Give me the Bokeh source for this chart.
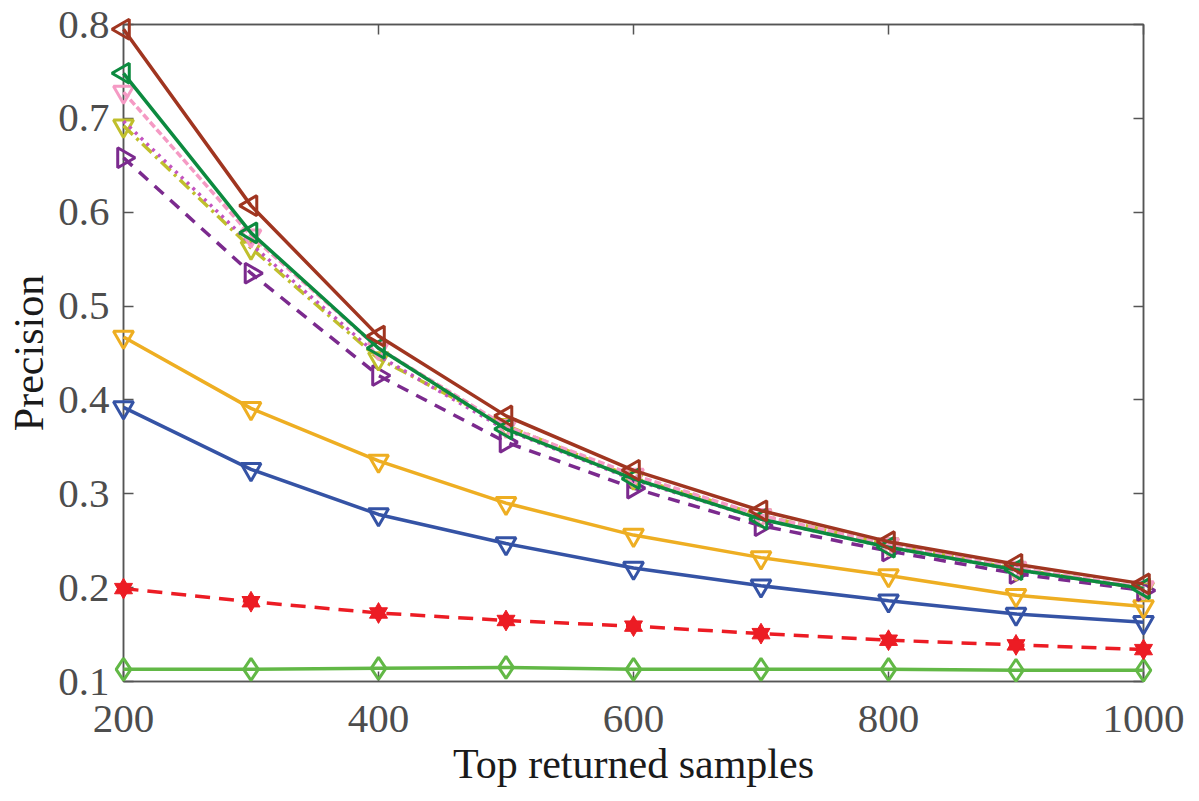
from bokeh.plotting import figure
from bokeh.models import LinearAxis, FixedTicker, Range1d, CustomJSTickFormatter
from bokeh.embed import file_html
from bokeh.resources import INLINE
import math

samples = [200, 300, 400, 500, 600, 700, 800, 900, 1000]
brown = [0.795, 0.607, 0.468, 0.383, 0.325, 0.282, 0.249, 0.225, 0.204]
green = [0.748, 0.578, 0.455, 0.369, 0.316, 0.273, 0.243, 0.219, 0.199]
pink = [0.728, 0.575, 0.455, 0.372, 0.320, 0.277, 0.246, 0.221, 0.200]
olive = [0.692, 0.562, 0.444, 0.373, 0.317, 0.277, 0.246, 0.220, 0.199]
magenta = [0.697, 0.566, 0.447, 0.368, 0.315, 0.273, 0.243, 0.219, 0.199]
purple = [0.658, 0.535, 0.426, 0.355, 0.306, 0.266, 0.239, 0.215, 0.197]
orange = [0.467, 0.391, 0.335, 0.290, 0.256, 0.232, 0.213, 0.192, 0.180]
blue = [0.392, 0.326, 0.278, 0.247, 0.221, 0.202, 0.186, 0.172, 0.163]
red = [0.199, 0.185, 0.173, 0.165, 0.159, 0.151, 0.144, 0.139, 0.134]
lime = [0.113, 0.113, 0.114, 0.115, 0.113, 0.113, 0.113, 0.112, 0.112]

x_ticks = [200, 400, 600, 800, 1000]
y_ticks = [0.1, 0.2, 0.3, 0.4, 0.5, 0.6, 0.7, 0.8]

FONT = "Liberation Serif"
AX = "#555555"

p = figure(width=1199, height=801, output_backend="svg", toolbar_location=None,
           x_range=Range1d(200, 1000), y_range=Range1d(0.1, 0.8),
           min_border_left=123, min_border_right=56, min_border_top=24, min_border_bottom=120)
p.background_fill_color = "white"
p.border_fill_color = "white"
p.outline_line_color = AX
p.outline_line_width = 1.5
p.xgrid.visible = False
p.ygrid.visible = False

def style_axis(ax):
    ax.major_tick_in = 10
    ax.major_tick_out = 0
    ax.minor_tick_line_color = None
    ax.axis_line_color = AX
    ax.axis_line_width = 1.5
    ax.major_tick_line_color = AX
    ax.major_tick_line_width = 1.5
    ax.major_label_text_font = FONT
    ax.major_label_text_font_size = "41px"
    ax.major_label_text_color = "#4d4d4d"
    ax.axis_label_text_font = FONT
    ax.axis_label_text_font_style = "normal"
    ax.axis_label_text_font_size = "42px"
    ax.axis_label_text_color = "#1a1a1a"

p.xaxis.ticker = FixedTicker(ticks=x_ticks)
p.yaxis.ticker = FixedTicker(ticks=y_ticks)
p.yaxis.formatter.use_scientific = False
for ax in list(p.xaxis) + list(p.yaxis):
    style_axis(ax)
p.xaxis.axis_label = "Top returned samples"
p.yaxis.axis_label = "Precision"
p.xaxis.major_label_standoff = 24
p.yaxis.major_label_standoff = 14
p.xaxis.axis_label_standoff = 6
p.yaxis.axis_label_standoff = 3

blank = "return ''"
top = LinearAxis(ticker=FixedTicker(ticks=x_ticks), formatter=CustomJSTickFormatter(code=blank))
right = LinearAxis(ticker=FixedTicker(ticks=y_ticks), formatter=CustomJSTickFormatter(code=blank))
style_axis(top)
style_axis(right)
top.major_label_standoff = 0
right.major_label_standoff = 0
p.add_layout(top, "above")
p.add_layout(right, "right")

LW = 3.5
MS = 20

def series(y, color, dash="solid", marker=None, angle=0.0, size=MS):
    p.line(samples, y, line_color=color, line_width=LW, line_dash=dash, level="overlay")
    if marker:
        p.scatter(samples, y, marker=marker, size=size, angle=angle,
                  line_color=color, line_width=3, fill_alpha=0, level="overlay")

series(lime, "#62b846", "solid", "diamond", size=22)
series(red, "#ec1c24", "15 9")
p.scatter(samples, red, marker="triangle", size=18, fill_color="#ec1c24", line_color="#ec1c24", line_width=1, level="overlay")
p.scatter(samples, red, marker="inverted_triangle", size=18, fill_color="#ec1c24", line_color="#ec1c24", line_width=1, level="overlay")
series(blue, "#3553a5", "solid", "inverted_triangle")
series(orange, "#eeae22", "solid", "inverted_triangle")
series(purple, "#7b2a8e", "12 9", "triangle", angle=-math.pi / 2)
series(olive, "#c0bf2c", "13 5 3 5", "inverted_triangle")
series(magenta, "#c354c0", "3 5")
series(pink, "#f59ac4", "7 3", "inverted_triangle")
series(green, "#0c8a3f", "solid", "triangle", angle=math.pi / 2)
series(brown, "#a03520", "solid", "triangle", angle=math.pi / 2)

open("out.html", "w").write(file_html(p, INLINE))
